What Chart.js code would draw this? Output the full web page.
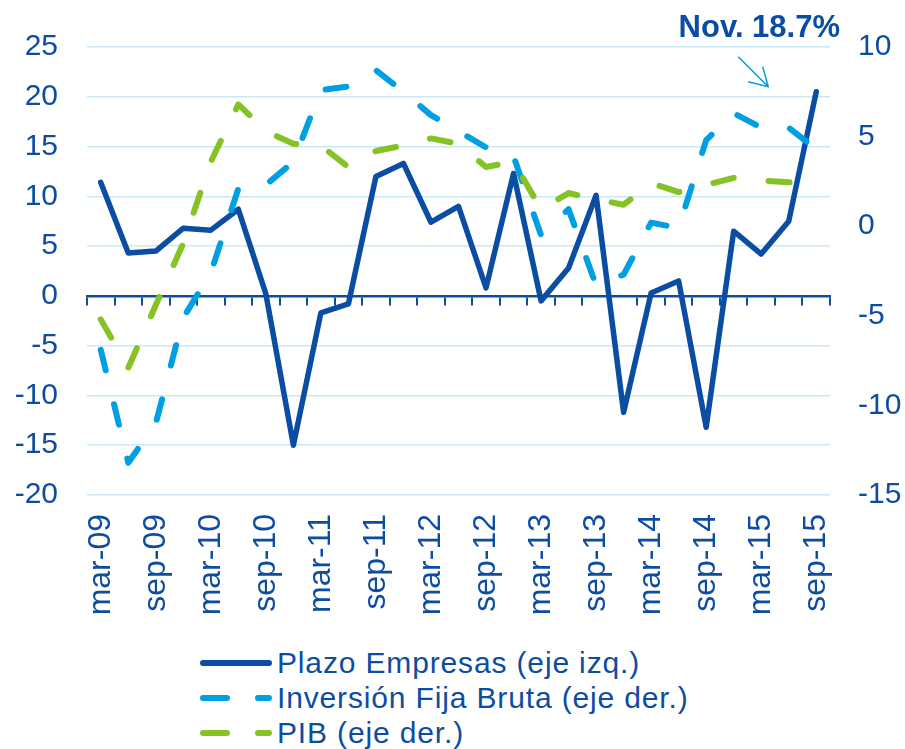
<!DOCTYPE html>
<html lang="es">
<head>
<meta charset="utf-8">
<title>Plazo Empresas, Inversión Fija Bruta y PIB</title>
<script src="https://cdn.jsdelivr.net/npm/chart.js@4.4.1/dist/chart.umd.min.js"></script>
<style>
  html, body { margin: 0; padding: 0; background: #fff; }
  body { width: 905px; height: 749px; position: relative; overflow: hidden; font-family: 'Liberation Sans', Arial, sans-serif; }
  #wrap { position: absolute; left: 0; top: 0; width: 905px; height: 630px; }
  .leyenda { position: absolute; left: 196px; top: 645px; color: #0d4da1; font-size: 30px; letter-spacing: 0.85px; }
  .leyenda div { display: flex; align-items: center; height: 35px; white-space: nowrap; }
  .leyenda svg { width: 80px; height: 12px; margin-right: 1px; flex: none; }
</style>
</head>
<body>
<div id="wrap"><canvas id="grafico"></canvas></div>
<div class="leyenda">
  <div><svg viewBox="0 0 80 12"><line x1="7" y1="6" x2="73" y2="6" stroke="#0a4da2" stroke-width="6" stroke-linecap="round"/></svg>Plazo Empresas (eje izq.)</div>
  <div><svg viewBox="0 0 80 12"><line x1="7" y1="6" x2="73" y2="6" stroke="#009fe3" stroke-width="6" stroke-linecap="round" stroke-dasharray="24 31"/></svg>Inversión Fija Bruta (eje der.)</div>
  <div><svg viewBox="0 0 80 12"><line x1="7" y1="6" x2="73" y2="6" stroke="#85c226" stroke-width="6" stroke-linecap="round" stroke-dasharray="24 31"/></svg>PIB (eje der.)</div>
</div>
<script>
// trimestres mar-09 .. sep-15
var trimestres = ['mar-09', 'jun-09', 'sep-09', 'dic-09', 'mar-10', 'jun-10', 'sep-10', 'dic-10',
  'mar-11', 'jun-11', 'sep-11', 'dic-11', 'mar-12', 'jun-12', 'sep-12', 'dic-12',
  'mar-13', 'jun-13', 'sep-13', 'dic-13', 'mar-14', 'jun-14', 'sep-14', 'dic-14',
  'mar-15', 'jun-15', 'sep-15'];

// eje izquierdo
var plazoEmpresas = [11.4, 4.3, 4.5, 6.8, 6.6, 8.7, 0.2, -15.0, -1.7, -0.8, 12.0, 13.3, 7.4, 9.0,
  0.8, 12.3, -0.5, 2.8, 10.1, -11.7, 0.3, 1.5, -13.2, 6.5, 4.2, 7.5, 20.5];

// eje derecho
var inversionFija = [-6.9, -13.2, -11.0, -5.1, -2.6, 2.1, 2.3, 3.6, 7.6, 7.8, 8.7, 7.5, 6.2, 5.3,
  4.4, 3.9, -0.5, 0.95, -3.3, -2.7, 0.2, -0.1, 4.8, 6.3, 5.5, 5.5, 4.3];
var pib = [-5.2, -7.9, -4.4, -0.95, 3.6, 6.8, 5.3, 4.6, 4.5, 3.3, 4.2, 4.5, 4.9, 4.6,
  3.3, 3.6, 0.95, 1.85, 1.5, 1.2, 2.4, 1.9, 2.3, 2.7, 2.55, 2.45, 2.4];

var ejeIzq = { min: -20, max: 25, paso: 5 };
var ejeDer = { min: -15, max: 10, paso: 5 };
var nota = 'Nov. 18.7%';

var AZUL = '#0a4da2', CELESTE = '#009fe3', VERDE = '#85c226', TEXTO = '#0d4da1', REJILLA = '#c8e9f8';
var GUION = [21, 35];

Chart.defaults.font.family = "'Liberation Sans', Arial, sans-serif";
Chart.defaults.font.size = 30;
Chart.defaults.color = TEXTO;

/* anotación del último dato */
var notaPlugin = {
  id: 'notaNov',
  afterDraw: function (chart) {
    var ctx = chart.ctx, area = chart.chartArea;
    var meta = chart.getDatasetMeta(0);
    var pt = meta.data[meta.data.length - 1];
    ctx.save();
    ctx.font = "bold 31px 'Liberation Sans', Arial, sans-serif";
    ctx.fillStyle = AZUL;
    ctx.textAlign = 'right';
    ctx.textBaseline = 'alphabetic';
    ctx.fillText(nota, area.right + 10, area.top - 10);
    var tx = pt.x - 48, ty = pt.y - 5;
    ctx.strokeStyle = CELESTE;
    ctx.lineWidth = 1.5;
    ctx.beginPath();
    ctx.moveTo(tx - 30, ty - 30); ctx.lineTo(tx, ty);
    ctx.moveTo(tx - 5.5, ty - 20); ctx.lineTo(tx, ty); ctx.lineTo(tx - 20, ty - 5);
    ctx.stroke();
    ctx.restore();
  }
};

new Chart(document.getElementById('grafico'), {
  type: 'line',
  data: {
    labels: trimestres,
    datasets: [{
      label: 'Plazo Empresas (eje izq.)',
      data: plazoEmpresas, yAxisID: 'y', order: 3,
      borderColor: AZUL, borderWidth: 5.5, borderJoinStyle: 'round', borderCapStyle: 'round',
      pointRadius: 0, tension: 0, fill: false
    }, {
      label: 'Inversión Fija Bruta (eje der.)',
      data: inversionFija, yAxisID: 'y1', order: 2,
      borderColor: CELESTE, borderWidth: 6, borderDash: GUION, borderCapStyle: 'round', borderJoinStyle: 'round',
      pointRadius: 0, tension: 0, fill: false
    }, {
      label: 'PIB (eje der.)',
      data: pib, yAxisID: 'y1', order: 1,
      borderColor: VERDE, borderWidth: 6, borderDash: GUION, borderCapStyle: 'round', borderJoinStyle: 'round',
      pointRadius: 0, tension: 0, fill: false
    }]
  },
  options: {
    responsive: true, maintainAspectRatio: false, animation: false,
    layout: { padding: { top: 45, left: 0, right: 0, bottom: 0 } },
    plugins: { legend: { display: false }, tooltip: { enabled: false } },
    scales: {
      x: {
        type: 'category', position: 'bottom', offset: true,
        grid: { display: false, drawTicks: false, offset: true },
        border: { display: false },
        ticks: {
          autoSkip: false, minRotation: 90, maxRotation: 90, padding: 19, color: TEXTO,
          font: { size: 32 },
          callback: function (v, i) { return i % 2 === 0 ? trimestres[i] : ''; }
        },
        afterFit: function (s) { s.height = 135; }
      },
      x0: {
        type: 'category', position: { y: 0 }, offset: true,
        grid: { offset: true, drawOnChartArea: false, drawTicks: true, tickLength: 8, color: AZUL, lineWidth: 2 },
        border: { display: true, color: AZUL, width: 2.5 },
        ticks: { display: false }
      },
      y: {
        type: 'linear', position: 'left',
        min: ejeIzq.min, max: ejeIzq.max,
        ticks: { stepSize: ejeIzq.paso, padding: 29, color: TEXTO },
        grid: {
          drawTicks: false, lineWidth: 1.5,
          color: function (c) { return c.tick && c.tick.value === 0 ? 'rgba(0,0,0,0)' : REJILLA; }
        },
        border: { display: false },
        afterFit: function (s) { s.width = 87; }
      },
      y1: {
        type: 'linear', position: 'right',
        min: ejeDer.min, max: ejeDer.max,
        ticks: { stepSize: ejeDer.paso, padding: 28, color: TEXTO },
        grid: { display: false, drawTicks: false },
        border: { display: false },
        afterFit: function (s) { s.width = 75; }
      }
    }
  },
  plugins: [notaPlugin]
});
</script>
</body>
</html>
